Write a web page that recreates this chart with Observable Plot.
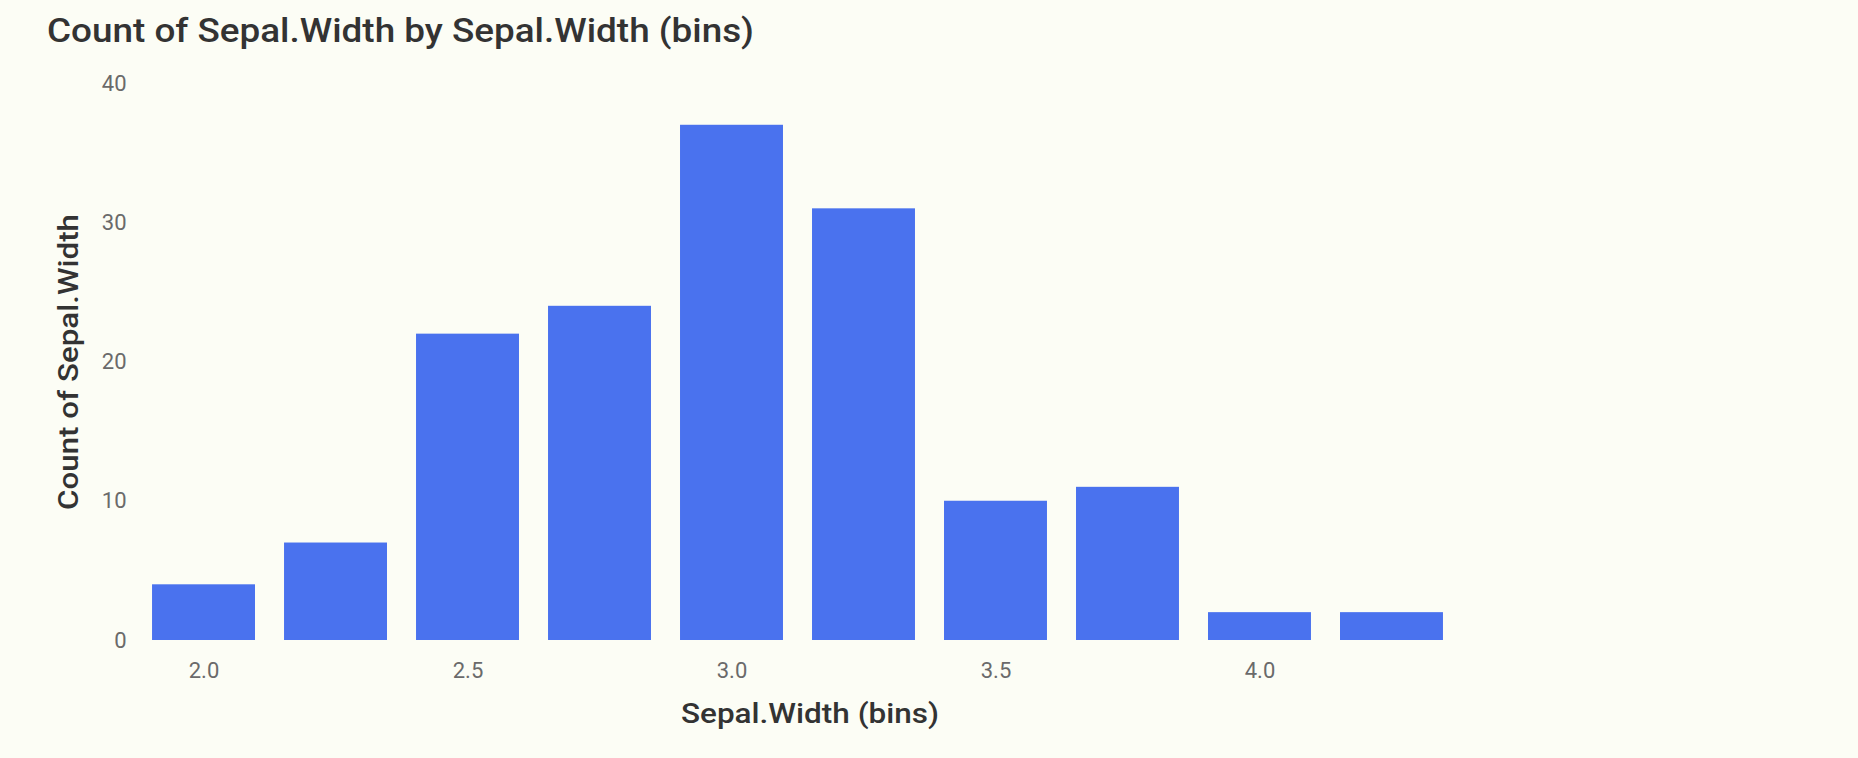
<!DOCTYPE html>
<html>
<head>
<meta charset="utf-8">
<script src="https://cdn.jsdelivr.net/npm/d3@7"></script>
<script src="https://cdn.jsdelivr.net/npm/@observablehq/plot@0.6"></script>
<style>
  html, body { margin: 0; padding: 0; background: #fcfdf5; }
  #wrap { position: relative; width: 1858px; height: 758px; overflow: hidden; }
  #title { position: absolute; left: 47px; top: 14px; font-family: Roboto, "Noto Sans", sans-serif; font-size: 33px; line-height: 1; font-weight: 500; color: #333; white-space: nowrap; transform-origin: 0 0; }
  #chart { position: absolute; left: 0; top: 0; }
</style>
</head>
<body>
<div id="wrap">
  <div id="chart"></div>
  <div id="title">Count of Sepal.Width by Sepal.Width (bins)</div>
</div>
<script>
const bins = [2.0, 2.25, 2.5, 2.75, 3.0, 3.25, 3.5, 3.75, 4.0, 4.25];
const counts = [4, 7, 22, 24, 37, 31, 10, 11, 2, 2];
const xTicks = [2.0, 2.5, 3.0, 3.5, 4.0];
const yTicks = [0, 10, 20, 30, 40];

const data = bins.map((b, i) => ({bin: b, count: counts[i]}));

const chart = Plot.plot({
  width: 1858,
  height: 758,
  marginLeft: 123,
  marginRight: 386,
  marginTop: 83,
  marginBottom: 118,
  style: {background: "transparent", fontFamily: "Roboto, 'Noto Sans', sans-serif"},
  x: {type: "band", domain: bins, padding: 0.22, round: false},
  y: {domain: [0, 40]},
  marks: [
    Plot.barY(data, {x: "bin", y: "count", fill: "#4a72ee"}),
    Plot.axisX({ticks: xTicks, tickFormat: d3.format(".1f"), tickSize: 0, tickPadding: 22,
      fontSize: 22, color: "#6a6a6a", label: null}),
    Plot.axisY({ticks: yTicks, tickSize: 0, tickPadding: 0, dx: 3, fontSize: 22, color: "#6a6a6a", label: null}),
    Plot.text(["Sepal.Width (bins)"], {frameAnchor: "bottom", dx: 12, dy: 82, fontSize: 27, fill: "#333", fontWeight: 500, className: "xtitle"}),
    Plot.text(["Count of Sepal.Width"], {frameAnchor: "left", textAnchor: "middle", dx: -54, rotate: -90, fontSize: 27, fill: "#333", fontWeight: 500, className: "ytitle"})
  ]
});
document.getElementById("chart").appendChild(chart);
d3.select(chart).selectAll(".xtitle text").attr("textLength", 258).attr("lengthAdjust", "spacingAndGlyphs");
d3.select(chart).selectAll(".ytitle text").attr("textLength", 296).attr("lengthAdjust", "spacingAndGlyphs");
const t = document.getElementById("title");
const w = t.getBoundingClientRect().width;
t.style.transform = `scaleX(${707 / w})`;
</script>
</body>
</html>
